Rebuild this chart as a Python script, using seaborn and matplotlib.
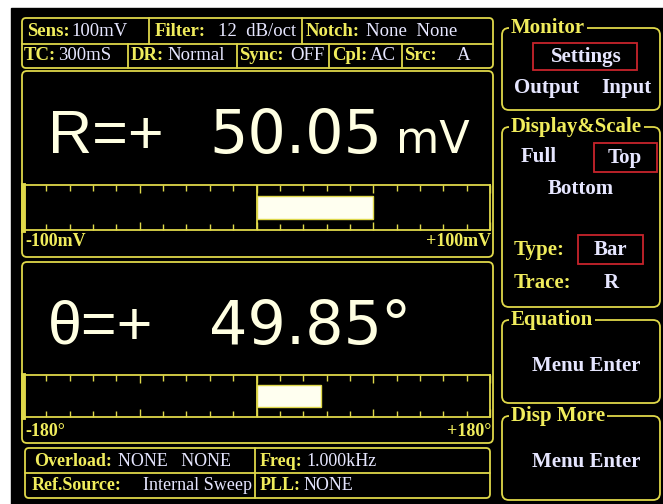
import numpy as np
import seaborn as sns
import matplotlib.pyplot as plt
from matplotlib.patches import FancyBboxPatch, Rectangle

# 读数和量程
readout_names = ['R', 'θ']
readout_values = [50.05, 49.85]
readout_units = ['mV', '°']
scale_limits = [100, 180]
scale_minor = [10, 18]
scale_major = [50, 90]
scale_left_labels = ['-100mV', '-180°']
scale_right_labels = ['+100mV', '+180°']

# 顶部状态栏
header_keys_1 = ['Sens:', 'Filter:', 'Notch:']
header_vals_1 = ['100mV', '12  dB/oct', 'None  None']
header_keys_2 = ['TC:', 'DR:', 'Sync:', 'Cpl:', 'Src:']
header_vals_2 = ['300mS', 'Normal', 'OFF', 'AC', 'A']

# 底部状态栏
status_keys_1 = ['Overload:', 'Freq:']
status_vals_1 = ['NONE   NONE', '1.000kHz']
status_keys_2 = ['Ref.Source:', 'PLL:']
status_vals_2 = ['Internal Sweep', 'NONE']

# 右侧菜单
menu_titles = ['Monitor', 'Display&Scale', 'Equation', 'Disp More']

sns.set_theme(style='dark')
plt.rcParams['font.family'] = ['Liberation Serif', 'DejaVu Serif']

LINE = '#DFD84A'
YEL = '#F0EC5C'
WHT = '#E6E6FF'
BIG = '#FFFFE2'
RED = '#C8242C'

fig = plt.figure(figsize=(6.63, 5.04), dpi=100, facecolor='white')
ax = fig.add_axes([0, 0, 1, 1])
ax.set_xlim(0, 663)
ax.set_ylim(504, 0)
ax.axis('off')
ax.add_patch(Rectangle((11, 8), 660, 500, color='black'))


def box(x0, y0, x1, y1, ec=LINE, r=5, lw=1.3):
    ax.add_patch(FancyBboxPatch((x0, y0), x1 - x0, y1 - y0, boxstyle=f'round,pad=0,rounding_size={r}',
                                fill=False, ec=ec, lw=lw))


def key_val(kx, vx, y, k, v, size=13):
    ax.text(kx, y, k, color=YEL, fontsize=size, fontweight='bold', va='center')
    ax.text(vx, y, v, color=WHT, fontsize=size, va='center')


def menu_text(x, y, s, c=WHT, ha='left'):
    ax.text(x, y, s, color=c, fontsize=15, fontweight='bold', va='center', ha=ha)


# 顶部状态栏
box(22, 18, 493, 68, r=4)
ax.plot([22, 493], [44, 44], color=LINE, lw=1.3)
for x in [149, 302]:
    ax.plot([x, x], [18, 44], color=LINE, lw=1.3)
for x in [128, 237, 329, 402]:
    ax.plot([x, x], [44, 68], color=LINE, lw=1.3)
for k, v, kx, vx in zip(header_keys_1, header_vals_1, [27, 155, 306], [71, 218, 366]):
    key_val(kx, vx, 31, k, v, 13.5)
for k, v, kx, vx in zip(header_keys_2, header_vals_2, [24, 131, 239, 332, 404], [58, 167, 290, 370, 457]):
    key_val(kx, vx, 56, k, v, 13.5)

# 两个读数区
box_tops = [71, 262]
box_bots = [257, 443]
for i in range(2):
    box(22, box_tops[i], 493, box_bots[i])
    base = box_tops[i] + 82
    ax.text(48, base, readout_names[i] + '=+', color=BIG, fontsize=44, family='Liberation Sans', va='baseline')
    ax.text(209, base, f'{readout_values[i]:.2f}', color=BIG, fontsize=43.5, family='DejaVu Sans', va='baseline')
    if readout_units[i] == '°':
        ax.text(380, base, readout_units[i], color=BIG, fontsize=43.5, family='DejaVu Sans', va='baseline')
    else:
        ax.text(396, base, readout_units[i], color=BIG, fontsize=32, family='DejaVu Sans', va='baseline')
    ly = box_tops[i] + 170
    ax.text(25, ly, scale_left_labels[i], color=YEL, fontsize=13, fontweight='bold', va='center')
    ax.text(491, ly, scale_right_labels[i], color=YEL, fontsize=13, fontweight='bold', va='center', ha='right')

# 底部状态栏
box(25, 448, 490, 498, r=4)
ax.plot([25, 490], [473, 473], color=LINE, lw=1.3)
ax.plot([255, 255], [448, 498], color=LINE, lw=1.3)
for k, v, kx, vx in zip(status_keys_1, status_vals_1, [34, 260], [118, 306]):
    key_val(kx, vx, 461, k, v)
for k, v, kx, vx in zip(status_keys_2, status_vals_2, [32, 260], [143, 304]):
    key_val(kx, vx, 486, k, v)

# 右侧菜单框
menu_tops = [28, 127, 320, 416]
menu_bots = [110, 307, 403, 500]
for t, y0, y1 in zip(menu_titles, menu_tops, menu_bots):
    box(502, y0, 660, y1, r=7)
    ax.text(511, y0, t, color=YEL, fontsize=15, fontweight='bold', va='center',
            bbox=dict(fc='black', ec='none', pad=1.5))

ax.add_patch(Rectangle((533, 43), 104, 27, fill=False, ec=RED, lw=1.3))
menu_text(586, 57, 'Settings', ha='center')
menu_text(514, 88, 'Output')
menu_text(651, 88, 'Input', ha='right')
menu_text(521, 157, 'Full')
ax.add_patch(Rectangle((594, 143), 63, 29, fill=False, ec=RED, lw=1.3))
menu_text(625, 158, 'Top', ha='center')
menu_text(581, 189, 'Bottom', ha='center')
menu_text(514, 250, 'Type:', c=YEL)
ax.add_patch(Rectangle((578, 235), 65, 29, fill=False, ec=RED, lw=1.3))
menu_text(610, 250, 'Bar', ha='center')
menu_text(514, 283, 'Trace:', c=YEL)
menu_text(611, 283, 'R', ha='center')
menu_text(586, 366, 'Menu Enter', ha='center')
menu_text(586, 462, 'Menu Enter', ha='center')

# 条形指示
bar_tops = [185, 375]
bar_bots = [230, 417]
for i in range(2):
    lim = scale_limits[i]
    gx = fig.add_axes([23 / 663, 1 - bar_bots[i] / 504, 467 / 663, (bar_bots[i] - bar_tops[i]) / 504])
    gx.set_facecolor('black')
    sns.barplot(x=[readout_values[i]], y=[readout_names[i]], orient='h', color='#FFFFF0',
                saturation=1, width=0.52, edgecolor=LINE, linewidth=1, ax=gx)
    gx.set_xlim(-lim, lim)
    gx.set_ylim(0.5, -0.5)
    gx.axvline(0, color=LINE, lw=1.3)
    gx.set_xticks(np.arange(-lim, lim + 1, scale_major[i]))
    gx.set_xticks(np.arange(-lim, lim + 1, scale_minor[i]), minor=True)
    gx.tick_params(which='both', axis='x', direction='in', top=True, bottom=True,
                   labelbottom=False, color=LINE, width=1)
    gx.tick_params(which='major', axis='x', length=6)
    gx.tick_params(which='minor', axis='x', length=4)
    gx.tick_params(axis='y', left=False, labelleft=False)
    gx.set_xlabel('')
    gx.set_ylabel('')
    gx.grid(False)
    for s in gx.spines.values():
        s.set_visible(True)
        s.set_color(LINE)
        s.set_linewidth(1.3)
    gx.spines['left'].set_linewidth(3.5)

fig.savefig('out.png', dpi=100, facecolor='white')
